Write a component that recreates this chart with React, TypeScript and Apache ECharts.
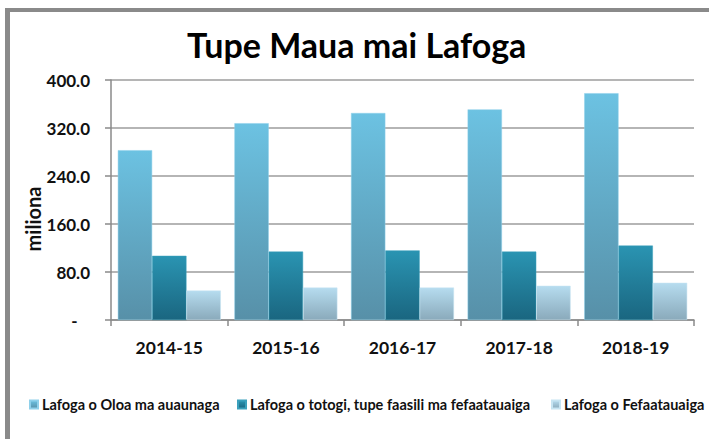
import React, { useEffect, useRef } from "react";
import * as echarts from "echarts";

const categories = ["2014-15", "2015-16", "2016-17", "2017-18", "2018-19"];
const seriesNames = [
  "Lafoga o Oloa ma auaunaga",
  "Lafoga o totogi, tupe faasili ma fefaatauaiga",
  "Lafoga o Fefaatauaiga",
];
const goodsServices = [283, 328, 345, 351, 378];
const wagesProfits = [107, 114, 116, 114, 124];
const trade = [49, 54, 54, 57, 62];
const yTicks = [0, 80, 160, 240, 320, 400];

const FONT = "Lato";

const grad = (top: string, bottom: string) =>
  new echarts.graphic.LinearGradient(0, 0, 0, 1, [
    { offset: 0, color: top },
    { offset: 1, color: bottom },
  ]);

export default function App() {
  const ref = useRef<HTMLDivElement>(null);
  useEffect(() => {
    if (!ref.current) return;
    const chart = echarts.init(ref.current, undefined, { renderer: "svg" });
    const legendBase = {
      top: 392,
      itemWidth: 8,
      itemHeight: 8,
      icon: "rect",
      itemGap: 10,
      textStyle: { fontFamily: FONT, fontWeight: "bold", fontSize: 14.5, color: "#111", padding: [0, 0, 0, -1] },
    };
    chart.setOption({
      animation: false,
      backgroundColor: "#ffffff",
      title: {
        text: "Tupe Maua mai Lafoga",
        left: 182,
        top: 22,
        textStyle: { fontFamily: FONT, fontWeight: "bold", fontSize: 34, color: "#000" },
      },
      legend: [
        { ...legendBase, left: 24, data: [seriesNames[0]] },
        { ...legendBase, left: 232, data: [seriesNames[1]] },
        { ...legendBase, left: 546, data: [seriesNames[2]] },
      ],
      grid: { left: 111, right: 15, top: 80, bottom: 119, containLabel: false },
      xAxis: {
        type: "category",
        data: categories,
        axisLine: { show: true, lineStyle: { color: "#8a8a8a", width: 1.5 } },
        axisTick: { show: true, alignWithLabel: false, length: 6, lineStyle: { color: "#8a8a8a", width: 1.5 } },
        axisLabel: { fontFamily: FONT, fontWeight: "bold", fontSize: 17.5, color: "#111", margin: 18 },
      },
      yAxis: {
        type: "value",
        min: yTicks[0],
        max: yTicks[yTicks.length - 1],
        interval: 80,
        axisLine: { show: true, lineStyle: { color: "#8a8a8a", width: 1.5 } },
        axisTick: { show: true, length: 6, lineStyle: { color: "#8a8a8a", width: 1.5 } },
        splitLine: { show: true, lineStyle: { color: "#9c9c9c", width: 1.5 } },
        axisLabel: {
          fontFamily: FONT,
          fontWeight: "bold",
          fontSize: 17,
          color: "#111",
          margin: 21,
          formatter: (v: number) => (v === 0 ? "-   " : v.toFixed(1)),
        },
      },
      series: [
        {
          name: seriesNames[0],
          type: "bar",
          data: goodsServices,
          barGap: "0%",
          barCategoryGap: "11.7%",
          itemStyle: { color: grad("#6cc2e2", "#5790a8"), borderColor: "#8fd0ea", borderWidth: 0.5 },
        },
        {
          name: seriesNames[1],
          type: "bar",
          data: wagesProfits,
          barGap: "0%",
          barCategoryGap: "11.7%",
          itemStyle: { color: grad("#2a94b2", "#1a6680"), borderColor: "#3aa0bc", borderWidth: 0.5 },
        },
        {
          name: seriesNames[2],
          type: "bar",
          data: trade,
          barGap: "0%",
          barCategoryGap: "11.7%",
          itemStyle: { color: grad("#b6dcef", "#8aaabb"), borderColor: "#c6e4f2", borderWidth: 0.5 },
        },
      ],
      color: ["#5ab6da", "#1f809f", "#a9d3e8"],
      graphic: [
        { type: "rect", shape: { x: 5, y: 8, width: 704, height: 4 }, style: { fill: "#8a8a8a" }, z: 100 },
        { type: "rect", shape: { x: 5, y: 8, width: 5, height: 431 }, style: { fill: "#8a8a8a" }, z: 100 },
        {
          type: "text",
          x: 33,
          y: 219,
          rotation: Math.PI / 2,
          style: {
            text: "miliona",
            fontFamily: FONT,
            fontWeight: "bold",
            fontSize: 20,
            fill: "#111",
            textAlign: "center",
            textVerticalAlign: "middle",
          },
        },
      ],
    });
    return () => chart.dispose();
  }, []);
  return (
    <div
      ref={ref}
      style={{ position: "absolute", left: 0, top: 0, width: 709, height: 439 }}
    />
  );
}
